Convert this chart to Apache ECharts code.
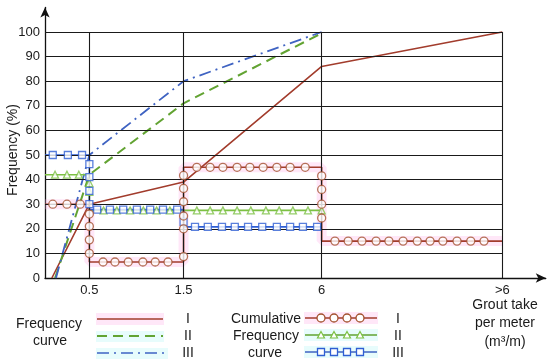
<!DOCTYPE html>
<html><head><meta charset="utf-8">
<script src="https://cdn.jsdelivr.net/npm/echarts@6/dist/echarts.min.js"></script>
<style>html,body{margin:0;padding:0;background:#fff}#c{width:550px;height:364px}</style>
</head><body><div id="c"></div>
<script>
// ---- data ----
const xTickLabels = ['0.5', '1.5', '6', '>6'];
const xTickPos = [0.97, 3.03, 6.05, 10];           // axis positions of the class limits
const yTicks = [0, 10, 20, 30, 40, 50, 60, 70, 80, 90, 100];

// "Frequency curve" lines (I solid, II dashed, III dash-dot)
const curveI   = [[0.15, 0], [0.97, 30], [3.03, 39], [6.05, 86], [10, 100]];
const curveII  = [[0.22, 0], [0.97, 42], [3.03, 71], [6.05, 99.5]];
const curveIII = [[0.24, 0], [0.97, 50], [3.03, 80], [6.05, 100]];

// "Cumulative Frequency curve" step paths
const stepI   = [[0, 30], [0.97, 30], [0.97, 6.5], [3.03, 6.5], [3.03, 45], [6.05, 45], [6.05, 15], [10, 15]];
const stepII  = [[0, 42], [0.97, 42], [0.97, 27.5], [6.05, 27.5]];
const stepIII = [[0, 50], [0.97, 50], [0.97, 27.8], [3.03, 27.8], [3.03, 20.8], [6.05, 20.8]];

// marker positions along the step paths
const markI = [
  [0.17, 30], [0.48, 30], [0.77, 30],
  [0.97, 26], [0.97, 21], [0.97, 15.5], [0.97, 10],
  [1.27, 6.5], [1.53, 6.5], [1.82, 6.5], [2.14, 6.5], [2.41, 6.5], [2.69, 6.5],
  [3.03, 8.7], [3.03, 20], [3.03, 25.2], [3.03, 31], [3.03, 36.4], [3.03, 41.7],
  [3.32, 45], [3.61, 45], [3.89, 45], [4.20, 45], [4.48, 45], [4.77, 45], [5.07, 45], [5.36, 45], [5.69, 45],
  [6.05, 41.5], [6.05, 36], [6.05, 30], [6.05, 24.4],
  [6.34, 15], [6.63, 15], [6.93, 15], [7.24, 15], [7.52, 15], [7.83, 15], [8.14, 15], [8.42, 15], [8.70, 15], [9.01, 15], [9.31, 15], [9.60, 15]
];
const markII = [
  [0.22, 42], [0.48, 42], [0.74, 42],
  [0.97, 38.6], [0.97, 35],
  [1.28, 27.5], [1.57, 27.5], [1.86, 27.5], [2.15, 27.5], [2.44, 27.5], [2.73, 27.5],
  [3.32, 27.5], [3.61, 27.5], [3.89, 27.5], [4.20, 27.5], [4.50, 27.5], [4.83, 27.5], [5.12, 27.5], [5.42, 27.5], [5.75, 27.5], [6.05, 27.5]
];
const markIII = [
  [0.17, 50], [0.50, 50], [0.81, 50],
  [0.97, 46.3], [0.97, 41], [0.97, 35.4], [0.97, 30],
  [1.14, 27.8], [1.42, 27.8], [1.71, 27.8], [2.01, 27.8], [2.30, 27.8], [2.58, 27.8], [2.89, 27.8],
  [3.03, 22.8],
  [3.28, 20.8], [3.56, 20.8], [3.87, 20.8], [4.15, 20.8], [4.44, 20.8], [4.75, 20.8], [5.07, 20.8], [5.36, 20.8], [5.64, 20.8], [5.95, 20.8]
];

// ---- styling ----
const RED = '#a23c2c', RED_M = '#a3502e';
const GREEN = '#62a332', GREEN_M = '#7cc043';
const BLUE = '#3f63c2', BLUE_M = '#2f5fd3';
const FONT = 'Liberation Sans, Arial, sans-serif';
const TXT = '#1a1a1a';
const PINK = 'rgba(255,170,230,0.28)', CYAN = 'rgba(160,245,245,0.25)';

const gridLines = [];
yTicks.filter(v => v > 0).forEach(v => gridLines.push([{coord: [0, v]}, {coord: [xTickPos[xTickPos.length - 1], v]}]));
xTickPos.forEach(p => gridLines.push([{coord: [p, 0]}, {coord: [p, 100]}]));

function markerSeries(data, symbol, size, color) {
  return {
    type: 'scatter', data: data, symbol: symbol, symbolSize: size, z: 5,
    itemStyle: {color: '#fff', borderColor: color, borderWidth: 1.3}, silent: true
  };
}
function stepSeries(data, color, z) {
  return {type: 'line', data: data, showSymbol: false, z: z, lineStyle: {color: color, width: 1.6}, silent: true};
}
function glowSeries(data, color) {
  return {type: 'line', data: data, showSymbol: false, z: 1, lineStyle: {color: color, width: 10, cap: 'butt'}, silent: true};
}

const chart = echarts.init(document.getElementById('c'), null, {renderer: 'canvas'});

// legend drawn as graphics
const g = [];
function txt(x, y, s, align) {
  g.push({type: 'text', x: x, y: y, style: {text: s, fill: TXT, font: '14px ' + FONT, align: align || 'center', verticalAlign: 'middle'}});
}
// legend highlight bands
g.push({type: 'rect', shape: {x: 96, y: 313, width: 68, height: 12}, style: {fill: PINK}});
g.push({type: 'rect', shape: {x: 96, y: 331, width: 68, height: 11}, style: {fill: CYAN}});
g.push({type: 'rect', shape: {x: 96, y: 348, width: 72, height: 11}, style: {fill: CYAN}});
g.push({type: 'rect', shape: {x: 304, y: 312, width: 74, height: 12}, style: {fill: PINK}});
g.push({type: 'rect', shape: {x: 304, y: 329, width: 74, height: 12}, style: {fill: CYAN}});
g.push({type: 'rect', shape: {x: 304, y: 346, width: 74, height: 12}, style: {fill: CYAN}});

txt(49, 324, 'Frequency'); txt(50, 341, 'curve');
txt(266, 319, 'Cumulative'); txt(266, 336, 'Frequency'); txt(265, 353, 'curve');
txt(188, 319, 'I'); txt(188, 336, 'II'); txt(188, 353, 'III');
txt(398, 319, 'I'); txt(398, 336, 'II'); txt(398, 353, 'III');
txt(505, 305, 'Grout take'); txt(505, 323, 'per meter'); txt(505, 342, '(m³/m)');
g.push({type: 'text', x: 13, y: 150, rotation: Math.PI / 2, style: {text: 'Frequency (%)', fill: TXT, font: '14px ' + FONT, align: 'center', verticalAlign: 'middle'}});
// legend line samples
g.push({type: 'line', shape: {x1: 97, y1: 319, x2: 163, y2: 319}, style: {stroke: RED, lineWidth: 1.6}});
g.push({type: 'line', shape: {x1: 97, y1: 336, x2: 163, y2: 336}, style: {stroke: GREEN, lineWidth: 2, lineDash: [10, 6]}});
g.push({type: 'line', shape: {x1: 97, y1: 353, x2: 167, y2: 353}, style: {stroke: BLUE, lineWidth: 1.6, lineDash: [12, 5, 2, 5]}});
const legY = [318, 335, 352], legC = [RED, GREEN, BLUE], legM = [RED_M, GREEN_M, BLUE_M];
legY.forEach((y, i) => {
  g.push({type: 'line', shape: {x1: 305, y1: y, x2: 377, y2: y}, style: {stroke: legC[i], lineWidth: 1.6}});
  [321, 334, 347, 360].forEach(x => {
    if (i === 0) g.push({type: 'circle', shape: {cx: x, cy: y, r: 4}, style: {fill: '#fff', stroke: legM[i], lineWidth: 1.3}});
    if (i === 1) g.push({type: 'polygon', shape: {points: [[x, y - 3.5], [x + 3.5, y + 3], [x - 3.5, y + 3]]}, style: {fill: '#fff', stroke: legM[i], lineWidth: 1.2}});
    if (i === 2) g.push({type: 'rect', shape: {x: x - 3.5, y: y - 3.5, width: 7, height: 7}, style: {fill: '#fff', stroke: legM[i], lineWidth: 1.3}});
  });
});

chart.setOption({
  animation: false,
  backgroundColor: '#fff',
  grid: {left: 45, top: 7.4, width: 500.75, height: 270.6},
  xAxis: {
    type: 'value', min: 0, max: 10.95,
    axisLine: {lineStyle: {color: '#111', width: 1.3}, symbol: ['none', 'arrow'], symbolSize: [7, 10]},
    axisTick: {show: false},
    splitLine: {show: false},
    axisLabel: {
      customValues: xTickPos, margin: 6, color: TXT, fontSize: 13, fontFamily: FONT,
      formatter: v => { const i = xTickPos.indexOf(v); return i >= 0 ? xTickLabels[i] : ''; }
    }
  },
  yAxis: {
    type: 'value', min: 0, max: 110, interval: 10,
    axisLine: {show: true, lineStyle: {color: '#111', width: 1.3}, symbol: ['none', 'arrow'], symbolSize: [7, 10]},
    axisTick: {show: false},
    splitLine: {show: false},
    axisLabel: {margin: 5, color: TXT, fontSize: 13, fontFamily: FONT, formatter: v => (v <= 100 ? String(v) : '')}
  },
  graphic: g,
  series: [
    glowSeries(stepI, PINK),
    {type: 'line', data: [], silent: true, markLine: {silent: true, symbol: 'none', label: {show: false},
      lineStyle: {color: '#1a1a1a', width: 1.1, type: 'solid'}, data: gridLines}},
    {type: 'line', data: curveI, showSymbol: false, z: 3, lineStyle: {color: RED, width: 1.6}},
    {type: 'line', data: curveII, showSymbol: false, z: 3, lineStyle: {color: GREEN, width: 2, type: [10, 6]}},
    {type: 'line', data: curveIII, showSymbol: false, z: 3, lineStyle: {color: BLUE, width: 1.8, type: [12, 5, 2, 5]}},
    stepSeries(stepII, GREEN_M, 3),
    stepSeries(stepIII, BLUE_M, 3),
    stepSeries(stepI, RED, 3),
    markerSeries(markII, 'triangle', 7, GREEN_M),
    markerSeries(markIII, 'rect', 7, BLUE_M),
    markerSeries(markI, 'circle', 8, RED_M)
  ]
});
</script></body></html>
